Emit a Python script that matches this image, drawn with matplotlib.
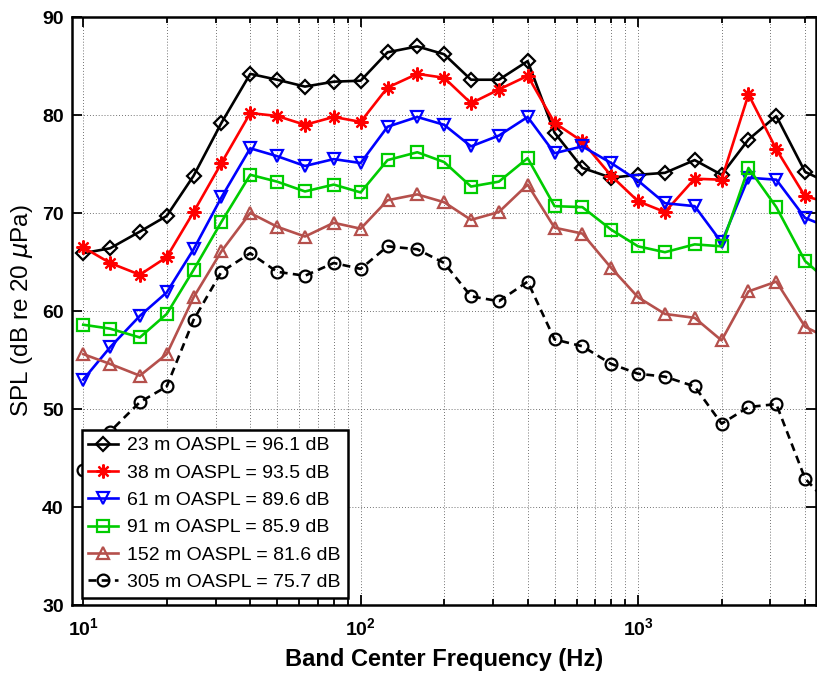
import matplotlib
matplotlib.use("Agg")
import matplotlib.pyplot as plt
from matplotlib.ticker import LogLocator, NullFormatter, MultipleLocator

freqs = [10, 12.5, 16, 20, 25, 31.5, 40, 50, 63, 80, 100, 125, 160, 200, 250, 315,
         400, 500, 630, 800, 1000, 1250, 1600, 2000, 2500, 3150, 4000, 5000]

spl_23 = [65.9, 66.4, 68.1, 69.7, 73.8, 79.2, 84.2, 83.6, 82.9, 83.4, 83.5, 86.4, 87.0, 86.2,
          83.6, 83.6, 85.5, 78.2, 74.6, 73.6, 73.9, 74.1, 75.4, 73.9, 77.5, 79.9, 74.2, 72.9]
spl_38 = [66.5, 64.9, 63.7, 65.5, 70.1, 75.1, 80.2, 79.9, 79.0, 79.8, 79.3, 82.8, 84.2, 83.8,
          81.2, 82.6, 84.0, 79.2, 77.3, 73.8, 71.2, 70.1, 73.5, 73.4, 82.1, 76.5, 71.7, 71.0]
spl_61 = [53.0, 56.3, 59.5, 61.9, 66.3, 71.6, 76.6, 75.8, 74.8, 75.5, 75.1, 78.8, 79.8, 79.0,
          76.8, 77.9, 79.8, 76.1, 76.8, 75.1, 73.3, 71.0, 70.7, 67.0, 73.6, 73.4, 69.5, 68.4]
spl_91 = [58.6, 58.2, 57.3, 59.7, 64.2, 69.1, 73.9, 73.2, 72.2, 72.9, 72.1, 75.4, 76.2, 75.2,
          72.7, 73.2, 75.6, 70.7, 70.6, 68.3, 66.6, 66.0, 66.8, 66.6, 74.6, 70.6, 65.1, 62.7]
spl_152 = [55.6, 54.6, 53.4, 55.6, 61.4, 66.1, 70.0, 68.6, 67.6, 69.0, 68.4, 71.3, 71.9, 71.1,
           69.3, 70.1, 72.9, 68.5, 67.9, 64.4, 61.4, 59.7, 59.3, 57.0, 62.0, 63.0, 58.4, 57.0]
spl_305 = [43.8, 47.7, 50.7, 52.3, 59.1, 64.0, 65.9, 64.0, 63.6, 64.9, 64.3, 66.6, 66.3, 64.9,
           61.5, 61.0, 63.0, 57.1, 56.4, 54.6, 53.6, 53.3, 52.3, 48.5, 50.2, 50.5, 42.9, 40.0]

labels = ["23 m OASPL = 96.1 dB", "38 m OASPL = 93.5 dB", "61 m OASPL = 89.6 dB",
          "91 m OASPL = 85.9 dB", "152 m OASPL = 81.6 dB", "305 m OASPL = 75.7 dB"]

plt.rcParams['font.family'] = ['Liberation Sans', 'DejaVu Sans']

fig = plt.figure(figsize=(8.17, 6.75), dpi=100)
ax = fig.add_axes([0.0881, 0.1037, 0.9988 - 0.0881, 0.9748 - 0.1037])

styles = [
    dict(color='black', marker='D', ms=7, mfc='none', ls='-'),
    dict(color='#ff0000', marker=(8, 2, 0), ms=10, mfc='#ff0000', ls='-'),
    dict(color='#0000ff', marker='v', ms=9, mfc='none', ls='-'),
    dict(color='#00cc00', marker='s', ms=8.5, mfc='none', ls='-'),
    dict(color='#b5504c', marker='^', ms=9, mfc='none', ls='-'),
    dict(color='black', marker='o', ms=8.5, mfc='none', ls=(0, (3, 2))),
]
series = [spl_23, spl_38, spl_61, spl_91, spl_152, spl_305]
for s, st, lab in zip(series, styles, labels):
    ax.plot(freqs, s, lw=1.9, mew=1.6, label=lab, **st)

ax.set_xscale('log')
ax.set_xlim(9.11, 4380)
ax.set_ylim(30, 90)
ax.yaxis.set_major_locator(MultipleLocator(10))
ax.xaxis.set_major_locator(LogLocator(base=10, numticks=10))
ax.xaxis.set_minor_locator(LogLocator(base=10, subs=range(2, 10), numticks=20))
ax.xaxis.set_minor_formatter(NullFormatter())

ax.grid(True, which='major', axis='both', color='#444444', lw=0.6, ls=(0, (1, 2.5)))
ax.grid(True, which='minor', axis='x', color='#444444', lw=0.6, ls=(0, (1, 2.5)))
ax.set_axisbelow(True)

ax.tick_params(which='both', direction='in', top=True, right=True, width=1.3)
ax.tick_params(which='major', length=7, labelsize=14, pad=6)
ax.tick_params(axis='x', which='major', pad=9)
ax.tick_params(which='minor', length=4)
for lbl in ax.get_xticklabels() + ax.get_yticklabels():
    lbl.set_fontweight('bold')
for sp in ax.spines.values():
    sp.set_linewidth(1.8)

ax.set_xlabel('Band Center Frequency (Hz)', fontsize=17, fontweight='bold', labelpad=6)
ax.set_ylabel('SPL (dB re 20 $\\mu$Pa)', fontsize=17.5, labelpad=5)

leg = ax.legend(loc='lower left', bbox_to_anchor=(0.013, 0.012), borderaxespad=0,
                fontsize=14, numpoints=1, handlelength=1.5, handletextpad=0.5,
                labelspacing=0.5, borderpad=0.35, fancybox=False, framealpha=1,
                edgecolor='black')
leg.get_frame().set_linewidth(1.8)

fig.savefig('out.png', dpi=100)
